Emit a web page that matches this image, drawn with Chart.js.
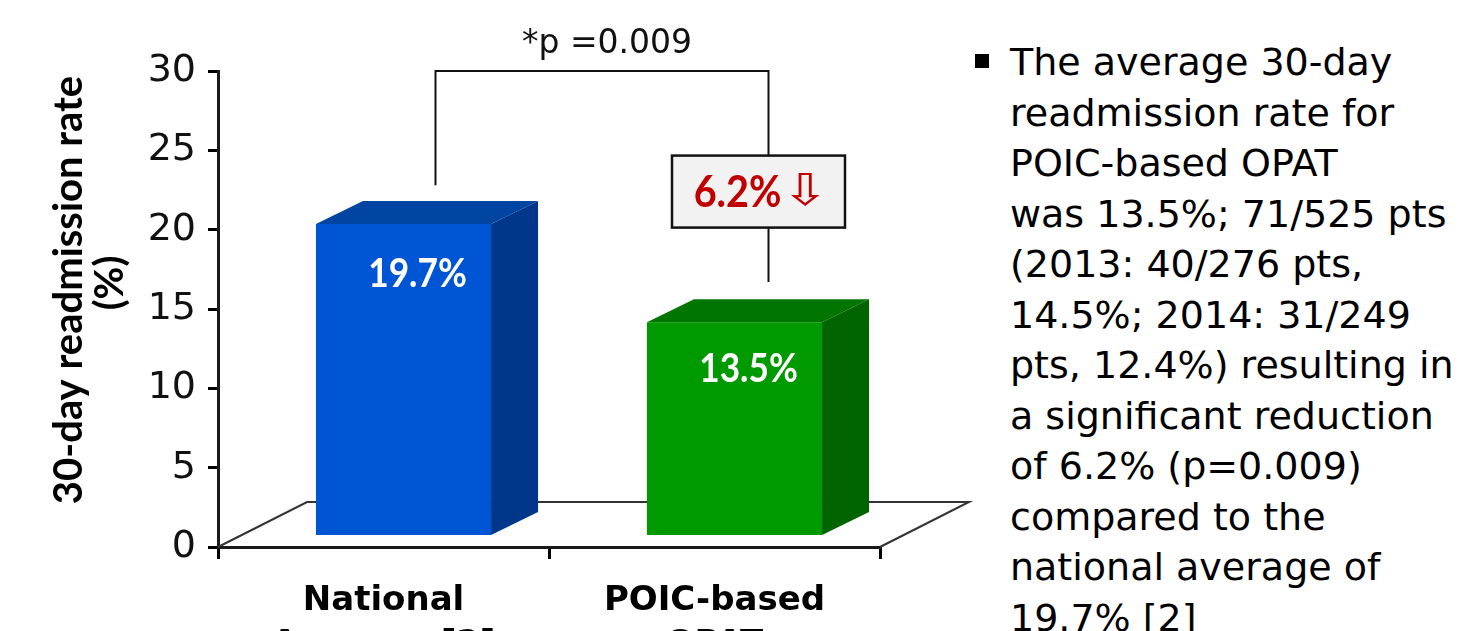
<!DOCTYPE html>
<html>
<head>
<meta charset="utf-8">
<script src="https://cdn.jsdelivr.net/npm/chart.js@4.4.1/dist/chart.umd.min.js"></script>
<style>
    html, body { margin: 0; padding: 0; background: #fff; overflow: hidden; }
    body { width: 1462px; height: 631px; position: relative; }
    #wrap { position: absolute; left: 0; top: 0; width: 1000px; height: 631px; }
    #bullet { position: absolute; left: 975px; top: 54px; width: 14px; height: 14px; background: #000; }
    #notes { position: absolute; left: 1010px; top: 37px; font-family: "DejaVu Sans", sans-serif; font-size: 38px; line-height: 50.5px; color: #000; white-space: nowrap; }
</style>
</head>
<body>
<div id="wrap"><canvas id="chart" width="1000" height="631"></canvas></div>
<div id="bullet"></div>
<div id="notes"></div>
<script>
// data
const categories = [['National', 'Average [2]'], ['POIC-based', 'OPAT']];
const rates = [19.7, 13.5];
const yTicks = [0, 5, 10, 15, 20, 25, 30];
const frontColors = ['#0055d4', '#009900'];
const topColors = ['#0045a2', '#007600'];
const sideColors = ['#00378b', '#006400'];
const pValueText = '*p =0.009';
const reductionText = '6.2%';
const yTitle = ['30-day readmission rate', '(%)'];
const noteLines = [
    'The average 30-day',
    'readmission rate for',
    'POIC-based OPAT',
    'was 13.5%; 71/525 pts',
    '(2013: 40/276 pts,',
    '14.5%; 2014: 31/249',
    'pts, 12.4%) resulting in',
    'a significant reduction',
    'of 6.2% (p=0.009)',
    'compared to the',
    'national average of',
    '19.7% [2]'
];

document.getElementById('notes').innerHTML = noteLines.join('<br>');

// 3D look: front face shift, bar depth, floor depth
const FRONT = { dx: 20, dy: -10.5 };
const DEPTH = { dx: 47, dy: -23 };
const FLOOR = { dx: 89, dy: -45 };

function scaledText(ctx, text, x, y, sx) {
    ctx.save();
    ctx.translate(x, y);
    ctx.scale(sx, 1);
    ctx.fillText(text, 0, 0);
    ctx.restore();
}

const bars3d = {
    id: 'bars3d',
    beforeDatasetsDraw(chart) {
        const { ctx, chartArea: { left, right, bottom } } = chart;
        // floor
        ctx.save();
        ctx.strokeStyle = '#333';
        ctx.lineWidth = 2;
        ctx.beginPath();
        ctx.moveTo(left, bottom);
        ctx.lineTo(left + FLOOR.dx, bottom + FLOOR.dy);
        ctx.lineTo(right + FLOOR.dx, bottom + FLOOR.dy);
        ctx.lineTo(right, bottom);
        ctx.stroke();
        ctx.restore();
        // front faces drawn by chart.js, shifted into the floor
        ctx.save();
        ctx.translate(FRONT.dx, FRONT.dy);
    },
    afterDatasetsDraw(chart) {
        const ctx = chart.ctx;
        ctx.restore();
        chart.getDatasetMeta(0).data.forEach((bar, i) => {
            const { x, y, base, width } = bar.getProps(['x', 'y', 'base', 'width'], true);
            const l = x - width / 2 + FRONT.dx, r = x + width / 2 + FRONT.dx;
            const t = y + FRONT.dy, b = base + FRONT.dy;
            ctx.fillStyle = topColors[i];
            ctx.beginPath();
            ctx.moveTo(l, t); ctx.lineTo(l + DEPTH.dx, t + DEPTH.dy);
            ctx.lineTo(r + DEPTH.dx, t + DEPTH.dy); ctx.lineTo(r, t);
            ctx.closePath(); ctx.fill();
            ctx.fillStyle = sideColors[i];
            ctx.beginPath();
            ctx.moveTo(r, t); ctx.lineTo(r + DEPTH.dx, t + DEPTH.dy);
            ctx.lineTo(r + DEPTH.dx, b + DEPTH.dy); ctx.lineTo(r, b);
            ctx.closePath(); ctx.fill();
            // value label
            ctx.fillStyle = '#fff';
            ctx.font = 'bold 41px Lato';
            ctx.textAlign = 'center';
            ctx.textBaseline = 'middle';
            scaledText(ctx, rates[i].toFixed(1) + '%', (l + r) / 2 + 14, t + 50 - i * 4, 0.86);
        });
    }
};

const annotations = {
    id: 'annotations',
    afterDraw(chart) {
        const { ctx, chartArea, scales: { x: xs, y: ys } } = chart;
        const x0 = xs.getPixelForValue(0) + 52, x1 = xs.getPixelForValue(1) + 54;
        const yTop = ys.getPixelForValue(30);
        ctx.save();
        // bracket
        ctx.strokeStyle = '#111';
        ctx.lineWidth = 2;
        ctx.beginPath();
        ctx.moveTo(x0, ys.getPixelForValue(22.8));
        ctx.lineTo(x0, yTop);
        ctx.lineTo(x1, yTop);
        ctx.lineTo(x1, ys.getPixelForValue(16.7));
        ctx.stroke();
        // p value
        ctx.fillStyle = '#111';
        ctx.font = '33px "DejaVu Sans"';
        ctx.textAlign = 'center';
        ctx.textBaseline = 'alphabetic';
        ctx.fillText(pValueText, (x0 + x1) / 2 + 5, yTop - 18);
        // reduction box
        const cx = xs.getPixelForValue(1) + 44, cy = ys.getPixelForValue(22.4);
        ctx.fillStyle = '#f2f2f2';
        ctx.fillRect(cx - 86.5, cy - 36, 173, 72);
        ctx.lineWidth = 2.5;
        ctx.strokeRect(cx - 86.5, cy - 36, 173, 72);
        ctx.fillStyle = '#c00000';
        ctx.textBaseline = 'middle';
        ctx.textAlign = 'left';
        ctx.font = 'bold 44px Lato';
        const w1 = ctx.measureText(reductionText).width * 0.9;
        ctx.font = '44px "DejaVu Sans"';
        const w2 = ctx.measureText('\u21e9').width * 1.3;
        const sx = cx - (w1 + w2) / 2 + 3;
        scaledText(ctx, '\u21e9', sx + w1, cy + 2, 1.3);
        ctx.font = 'bold 44px Lato';
        scaledText(ctx, reductionText, sx, cy + 1, 0.9);
        // y title
        ctx.fillStyle = '#000';
        ctx.font = 'bold 40px Lato';
        ctx.textAlign = 'center';
        ctx.translate(chartArea.left - 149, chartArea.top + 219);
        ctx.rotate(-Math.PI / 2);
        ctx.fillText(yTitle[0], 0, 0);
        ctx.fillText(yTitle[1], 7, 41);
        ctx.restore();
    }
};

new Chart(document.getElementById('chart'), {
    type: 'bar',
    data: {
        labels: categories,
        datasets: [{ data: rates, backgroundColor: frontColors, borderWidth: 0, barPercentage: 0.529, categoryPercentage: 1 }]
    },
    options: {
        responsive: false,
        animation: false,
        layout: { padding: { top: 71, right: 120, left: 0, bottom: 0 } },
        plugins: { legend: { display: false }, tooltip: { enabled: false } },
        scales: {
            x: {
                afterFit: s => { s.height = 84; },
                grid: { drawOnChartArea: false, drawTicks: true, tickLength: 12, lineWidth: 3, color: '#000' },
                border: { color: '#1a1a1a', width: 3 },
                ticks: { color: '#000', padding: 20, font: { family: 'DejaVu Sans', weight: 'bold', size: 34, lineHeight: 1.3 } }
            },
            y: {
                min: 0, max: 30,
                afterFit: s => { s.width = 218; },
                afterBuildTicks: s => { s.ticks = yTicks.map(v => ({ value: v })); },
                grid: { drawOnChartArea: false, drawTicks: true, tickLength: 10, lineWidth: 3, color: '#000' },
                border: { color: '#1a1a1a', width: 3 },
                ticks: { color: '#111', padding: 12, font: { family: 'DejaVu Sans', size: 38 } }
            }
        }
    },
    plugins: [bars3d, annotations]
});
</script>
</body>
</html>
